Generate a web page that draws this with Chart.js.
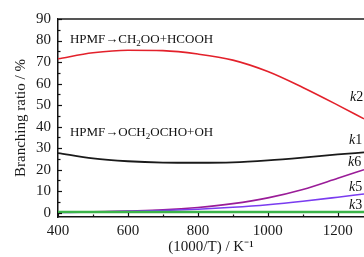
<!DOCTYPE html>
<html>
<head>
<meta charset="utf-8">
<script src="https://cdn.jsdelivr.net/npm/chart.js@4"></script>
<style>
  html, body { margin: 0; padding: 0; background: #fff; }
  canvas { display: block; }
</style>
</head>
<body>
<canvas id="branchChart" width="364" height="257"></canvas>
<script>
// 1000/T sampling points
const temps = [400, 500, 600, 700, 800, 900, 1000, 1100, 1200, 1275];

const k2 = [71.5, 74.3, 75.5, 75.3, 73.7, 70.9, 65.6, 58.2, 50.0, 43.6];
const k1 = [27.7, 25.2, 23.9, 23.3, 23.2, 23.4, 24.3, 25.6, 27.1, 28.0];
const k6 = [0.2, 0.4, 0.8, 1.3, 2.4, 4.2, 6.9, 10.8, 16.0, 20.0];
const k5 = [0.1, 0.3, 0.6, 1.0, 1.6, 2.5, 3.7, 5.3, 7.2, 8.7];
const k3 = [0.3, 0.3, 0.3, 0.3, 0.3, 0.3, 0.3, 0.3, 0.3, 0.3];

const xTicks = [400, 500, 600, 700, 800, 900, 1000, 1100, 1200];
const yTicks = [0, 5, 10, 15, 20, 25, 30, 35, 40, 45, 50, 55, 60, 65, 70, 75, 80, 85, 90];

const serif = '"Liberation Serif", "Times New Roman", serif';

const toPoints = (arr) => arr.map((v, i) => ({ x: temps[i], y: v }));

const series = [
    { label: 'k3', data: k3, color: '#3cb44a', width: 2.5 },
    { label: 'k5', data: k5, color: '#7a3cf0', width: 1.6 },
    { label: 'k6', data: k6, color: '#9a1c98', width: 1.6 },
    { label: 'k1', data: k1, color: '#1a1a1a', width: 1.8 },
    { label: 'k2', data: k2, color: '#e3212b', width: 1.6 }
];

// text that sits on the plot, in data coordinates
const curveLabels = [
    { name: 'k', num: '2', x: 1235, y: 53.5 },
    { name: 'k', num: '1', x: 1232, y: 33.5 },
    { name: 'k', num: '6', x: 1229, y: 23.3 },
    { name: 'k', num: '5', x: 1232, y: 12.0 },
    { name: 'k', num: '3', x: 1232, y: 3.3 }
];
const reactions = [
    { parts: [['HPMF\u2192CH', 0], ['2', 1], ['OO+HCOOH', 0]], x: 434, y: 80.5 },
    { parts: [['HPMF\u2192OCH', 0], ['2', 1], ['OCHO+OH', 0]], x: 434, y: 37.2 }
];

const drawRich = (ctx, parts, x, y) => {
    let cx = x;
    parts.forEach(([txt, sub]) => {
        ctx.font = sub ? `9px ${serif}` : `13px ${serif}`;
        ctx.fillText(txt, cx, sub ? y + 4 : y);
        cx += ctx.measureText(txt).width;
    });
};

const framePlugin = {
    id: 'frame',
    afterDatasetsDraw(chart) {
        const { ctx, chartArea: a, scales: { x, y } } = chart;
        ctx.save();
        // top frame line
        ctx.strokeStyle = '#555';
        ctx.lineWidth = 2;
        ctx.beginPath();
        ctx.moveTo(a.left, a.top);
        ctx.lineTo(a.right, a.top);
        ctx.stroke();

        // inward tick marks
        ctx.strokeStyle = '#111';
        ctx.lineWidth = 1.2;
        xTicks.forEach(v => {
            const px = Math.round(x.getPixelForValue(v)) + 0.5;
            const len = v % 200 === 0 ? 4 : 2.5;
            ctx.beginPath();
            ctx.moveTo(px, a.bottom);
            ctx.lineTo(px, a.bottom - len);
            ctx.stroke();
        });
        yTicks.forEach(v => {
            const py = Math.round(y.getPixelForValue(v)) + 0.5;
            const len = v % 10 === 0 ? 4 : 2.5;
            ctx.beginPath();
            ctx.moveTo(a.left, py);
            ctx.lineTo(a.left + len, py);
            ctx.stroke();
        });

        ctx.fillStyle = '#111';
        ctx.textBaseline = 'middle';
        ctx.textAlign = 'left';
        reactions.forEach(r => drawRich(ctx, r.parts, x.getPixelForValue(r.x), y.getPixelForValue(r.y)));

        curveLabels.forEach(l => {
            const px = x.getPixelForValue(l.x);
            const py = y.getPixelForValue(l.y);
            ctx.font = `italic 14px ${serif}`;
            ctx.fillText(l.name, px, py);
            const w = ctx.measureText(l.name).width;
            ctx.font = `14px ${serif}`;
            ctx.fillText(l.num, px + w, py);
        });
        ctx.restore();
    }
};

new Chart(document.getElementById('branchChart'), {
    type: 'line',
    data: {
        datasets: series.map(s => ({
            label: s.label,
            data: toPoints(s.data),
            borderColor: s.color,
            borderWidth: s.width,
            pointRadius: 0,
            fill: false,
            cubicInterpolationMode: 'monotone'
        }))
    },
    options: {
        responsive: false,
        animation: false,
        devicePixelRatio: 1,
        layout: { padding: { top: 19, right: 0, bottom: 0, left: 0 } },
        plugins: { legend: { display: false }, tooltip: { enabled: false } },
        scales: {
            x: {
                type: 'linear',
                min: 400,
                max: 1275,
                afterBuildTicks: (s) => { s.ticks = xTicks.map(v => ({ value: v })); },
                afterFit: (s) => { s.height = 40; },
                grid: { display: false, drawTicks: false },
                border: { display: true, color: '#111', width: 1.5 },
                ticks: {
                    padding: 5,
                    color: '#1a1a1a',
                    font: { family: serif, size: 15 },
                    maxRotation: 0,
                    autoSkip: false,
                    callback: (v) => (v % 200 === 0 ? v : '')
                },
                title: {
                    display: true,
                    text: '(1000/T) / K\u207B\u00B9',
                    color: '#1a1a1a',
                    font: { family: serif, size: 15 },
                    padding: { top: 1, bottom: 1 }
                }
            },
            y: {
                min: -2,
                max: 90,
                afterBuildTicks: (s) => { s.ticks = yTicks.map(v => ({ value: v })); },
                afterFit: (s) => { s.width = 58; },
                grid: { display: false, drawTicks: false },
                border: { display: true, color: '#111', width: 1.5 },
                ticks: {
                    padding: 7,
                    color: '#1a1a1a',
                    font: { family: serif, size: 15 },
                    autoSkip: false,
                    callback: (v) => (v % 10 === 0 ? v : '')
                },
                title: {
                    display: true,
                    text: 'Branching ratio / %',
                    color: '#1a1a1a',
                    font: { family: serif, size: 15 },
                    padding: { top: 12, bottom: 12 }
                }
            }
        }
    },
    plugins: [framePlugin]
});
</script>
</body>
</html>
